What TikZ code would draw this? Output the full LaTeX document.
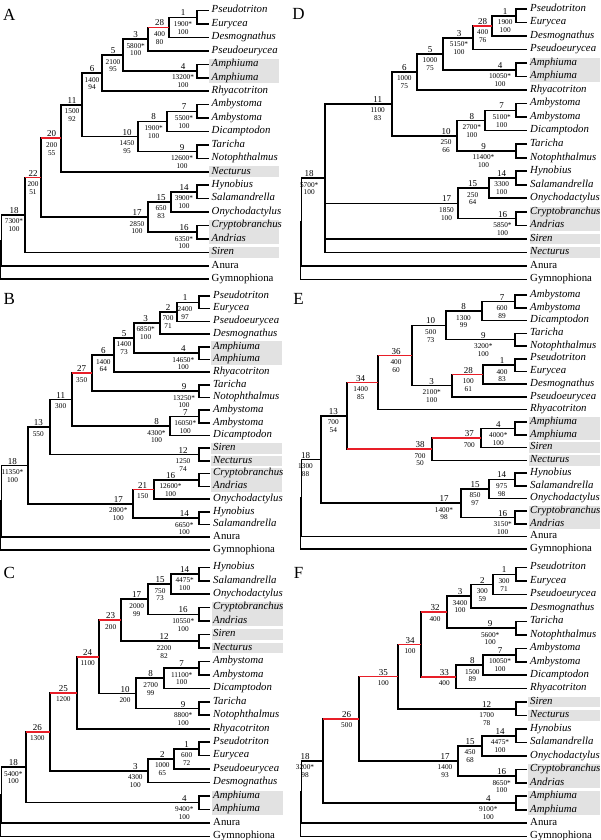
\documentclass[tikz,border=0pt]{standalone}
\usepackage{fontspec}
\setmainfont{Liberation Serif}
\usetikzlibrary{calc,backgrounds}

\definecolor{cladered}{RGB}{232,30,40}
\definecolor{boxgrey}{RGB}{226,226,226}

% leaf rows: \taxa{panel}{tip x}{first y}{row step}{names}
\newcommand\taxa[5]{%
  \foreach \tname [count=\row] in {#5} {
    \coordinate (#1-\row) at (#2,{#3+(\row-1)*#4});
    \node[taxon] (#1-t\row) at ([xshift=1.5pt]#1-\row) {\ifnum\row>19 \upshape\fi\tname};
  }
}
% stem without labels: \basal{name}{x}{upper child}{lower child}
\newcommand\basal[4]{%
  \path (#3) -- (#4) coordinate[midway] (#1-m);
  \coordinate (#1-x) at (#2,0);
  \coordinate (#1) at (#1-m -| #1-x);
  \draw[branch] (#3) -- (#3 -| #1) -- (#4 -| #1) -- (#4);
}
% \clade{name}{x}{upper child}{lower child}{label x}{number}{support}
\newcommand\clade[7]{%
  \basal{#1}{#2}{#3}{#4}
  \coordinate (#1-lx) at (#5,0);
  \node[support] (#1-s) at ($(#1-lx |- #1)+(0,3.9)$) {#7};
  \node[num] (#1-n) at ($(#1-lx |- #1)+(0,-1.4)$) {#6};
}
% red branch from parent to child
\newcommand\redbranch[2]{\draw[branch, draw=cladered] (#1 -| #2) -- (#1);}
% grey band: \greyrows{panel}{first row}{last row}{left x}{right x}
\newcommand\greyrows[5]{%
  \coordinate (#1-gl) at (#4,0);
  \coordinate (#1-gr) at (#5,0);
  \fill[hilite] ($(#1-#2 -| #1-gl)+(0,-5.3)$) rectangle ($(#1-#3 -| #1-gr)+(0,5.3)$);
}

\begin{document}
\begin{tikzpicture}[x=1pt, y=-1pt,
  branch/.style={line width=1.6pt},
  taxon/.style={anchor=mid west, inner sep=1.5pt, font=\fontsize{10.8}{12}\selectfont\itshape},
  num/.style={anchor=base, inner sep=0pt, font=\fontsize{9}{10}\selectfont},
  support/.style={anchor=north, inner sep=0pt, align=center, font=\fontsize{7.3}{7.8}\selectfont},
  panel/.style={inner sep=0pt, font=\fontsize{17}{17}\selectfont},
  hilite/.style={fill=boxgrey}]

\useasboundingbox (0,0) rectangle (600,840);

\node[panel] (pA) at (9.2,15) {A};
\node[panel] (pB) at (9.2,299) {B};
\node[panel] (pC) at (9.2,572.5) {C};
\node[panel] (pD) at (298.5,14) {D};
\node[panel] (pE) at (298.5,299) {E};
\node[panel] (pF) at (298.5,573) {F};

% A
\taxa{A}{208.5}{10.6}{13.43}{Pseudotriton,Eurycea,Desmognathus,Pseudoeurycea,Amphiuma,Amphiuma,Rhyacotriton,Ambystoma,Ambystoma,Dicamptodon,Taricha,Notophthalmus,Necturus,Hynobius,Salamandrella,Onychodactylus,Cryptobranchus,Andrias,Siren,Anura,Gymnophiona}
\clade{A1}{197}{A-1}{A-2}{183}{1}{1900*\\100}
\clade{A28}{169}{A1}{A-3}{159.5}{28}{400\\80}
\clade{A3}{148}{A28}{A-4}{135.7}{3}{5800*\\100}
\clade{A4}{197}{A-5}{A-6}{183}{4}{13200*\\100}
\clade{A5}{123}{A3}{A4}{113}{5}{2100\\95}
\clade{A6}{102}{A5}{A-7}{92}{6}{1400\\94}
\clade{A7}{197}{A-8}{A-9}{184}{7}{5500*\\100}
\clade{A8}{167}{A7}{A-10}{153.7}{8}{1900*\\100}
\clade{A9}{197}{A-11}{A-12}{182}{9}{12600*\\100}
\clade{A10}{138}{A8}{A9}{127}{10}{1450\\95}
\clade{A11}{82}{A6}{A10}{72}{11}{1500\\92}
\clade{A20}{61}{A11}{A-13}{51.7}{20}{200\\55}
\clade{A14}{197}{A-14}{A-15}{184}{14}{3900*\\100}
\clade{A15}{171}{A14}{A-16}{161}{15}{650\\83}
\clade{A16}{197}{A-17}{A-18}{184}{16}{6350*\\100}
\clade{A17}{148}{A15}{A16}{137}{17}{2850\\100}
\clade{A22}{41}{A20}{A17}{33}{22}{200\\51}
\clade{A18}{25}{A22}{A-19}{14}{18}{7300*\\100}
\basal{Ab}{1.5}{A18}{A-20}
\basal{Ar}{0.4}{Ab}{A-21}
\redbranch{A28}{A3}
\redbranch{A20}{A22}
\redbranch{A22}{A18}

% B
\taxa{B}{210}{296}{12.69}{Pseudotriton,Eurycea,Pseudoeurycea,Desmognathus,Amphiuma,Amphiuma,Rhyacotriton,Taricha,Notophthalmus,Ambystoma,Ambystoma,Dicamptodon,Siren,Necturus,Cryptobranchus,Andrias,Onychodactylus,Hynobius,Salamandrella,Anura,Gymnophiona}
\clade{B1}{199}{B-1}{B-2}{185}{1}{2400\\97}
\clade{B2}{177}{B1}{B-3}{168}{2}{700\\71}
\clade{B3}{160}{B2}{B-4}{145.7}{3}{6850*\\100}
\clade{B4}{199}{B-5}{B-6}{183.3}{4}{14650*\\100}
\clade{B5}{134}{B3}{B4}{124}{5}{1400\\73}
\clade{B6}{114}{B5}{B-7}{103.3}{6}{1400\\64}
\clade{B9}{199}{B-8}{B-9}{184}{9}{13250*\\100}
\clade{B27}{92}{B6}{B9}{81.7}{27}{350}
\clade{B7}{199}{B-10}{B-11}{185.3}{7}{16050*\\100}
\clade{B8}{170}{B7}{B-12}{156.5}{8}{4300*\\100}
\clade{B11}{72}{B27}{B8}{60.7}{11}{300}
\clade{B12}{199}{B-13}{B-14}{183}{12}{1250\\74}
\clade{B13}{50}{B11}{B12}{38.3}{13}{550}
\clade{B16}{199}{B-15}{B-16}{170.5}{16}{12600*\\100}
\clade{B21}{154}{B16}{B-17}{142.7}{21}{150}
\clade{B14}{199}{B-18}{B-19}{184.3}{14}{6650*\\100}
\clade{B17}{133}{B21}{B14}{118.3}{17}{2800*\\100}
\clade{B18}{28}{B13}{B17}{12.5}{18}{11350*\\100}
\basal{Bb}{1.5}{B18}{B-20}
\basal{Br}{0.4}{Bb}{B-21}
\redbranch{B27}{B11}
\redbranch{B21}{B17}

% C
\taxa{C}{210}{567.3}{13.45}{Hynobius,Salamandrella,Onychodactylus,Cryptobranchus,Andrias,Siren,Necturus,Ambystoma,Ambystoma,Dicamptodon,Taricha,Notophthalmus,Rhyacotriton,Pseudotriton,Eurycea,Pseudoeurycea,Desmognathus,Amphiuma,Amphiuma,Anura,Gymnophiona}
\clade{C14}{199}{C-1}{C-2}{184.7}{14}{4475*\\100}
\clade{C15}{171}{C14}{C-3}{160}{15}{750\\73}
\clade{C16}{199}{C-4}{C-5}{183.2}{16}{10550*\\100}
\clade{C17}{148}{C15}{C16}{136.7}{17}{2000\\99}
\clade{C12}{199}{C-6}{C-7}{164}{12}{2200\\82}
\clade{C23}{121}{C17}{C12}{110.7}{23}{200}
\clade{C7}{199}{C-8}{C-9}{181.7}{7}{11100*\\100}
\clade{C8}{164}{C7}{C-10}{150.7}{8}{2700\\99}
\clade{C9}{199}{C-11}{C-12}{183.2}{9}{8800*\\100}
\clade{C10}{136}{C8}{C9}{125}{10}{200}
\clade{C24}{99}{C23}{C10}{87.7}{24}{1100}
\clade{C25}{77}{C24}{C-13}{63.3}{25}{1200}
\clade{C1}{199}{C-14}{C-15}{186.7}{1}{600\\72}
\clade{C2}{174}{C1}{C-16}{162.3}{2}{1000\\65}
\clade{C3}{148}{C2}{C-17}{135.3}{3}{4300\\100}
\clade{C26}{50}{C25}{C3}{37.3}{26}{1300}
\clade{C4}{199}{C-18}{C-19}{184.3}{4}{9400*\\100}
\clade{C18}{26}{C26}{C4}{13.3}{18}{5400*\\100}
\basal{Cb}{1.5}{C18}{C-20}
\basal{Cr}{0.4}{Cb}{C-21}
\redbranch{C23}{C24}
\redbranch{C24}{C25}
\redbranch{C25}{C26}
\redbranch{C26}{C18}

% D
\taxa{D}{527}{9}{13.52}{Pseudotriton,Eurycea,Desmognathus,Pseudoeurycea,Amphiuma,Amphiuma,Rhyacotriton,Ambystoma,Ambystoma,Dicamptodon,Taricha,Notophthalmus,Hynobius,Salamandrella,Onychodactylus,Cryptobranchus,Andrias,Siren,Necturus,Anura,Gymnophiona}
\clade{D1}{516}{D-1}{D-2}{505.2}{1}{1900\\100}
\clade{D28}{492}{D1}{D-3}{482.7}{28}{400\\76}
\clade{D3}{473}{D28}{D-4}{459}{3}{5150*\\100}
\clade{D4}{516}{D-5}{D-6}{500}{4}{10050*\\100}
\clade{D5}{443}{D3}{D4}{430}{5}{1000\\75}
\clade{D6}{417}{D5}{D-7}{404.3}{6}{1000\\75}
\clade{D7}{516}{D-8}{D-9}{501.7}{7}{5100*\\100}
\clade{D8}{485}{D7}{D-10}{471.8}{8}{2700*\\100}
\clade{D9}{516}{D-11}{D-12}{483.5}{9}{11400*\\100}
\clade{D10}{457}{D8}{D9}{446}{10}{250\\66}
\clade{D11}{392}{D6}{D10}{377.7}{11}{1100\\83}
\clade{D14}{516}{D-13}{D-14}{501.7}{14}{3300\\100}
\clade{D15}{489}{D14}{D-15}{472.7}{15}{250\\64}
\clade{D16}{516}{D-16}{D-17}{502.5}{16}{5850*\\100}
\clade{D17}{458}{D15}{D16}{446.5}{17}{1850\\100}
\clade{D18}{325}{D11}{D-19}{309.2}{18}{5700*\\100}
\draw[branch] (D17 -| D18) -- (D17);
\draw[branch] (D-18 -| D18) -- (D-18);
\basal{Db}{301.5}{D18}{D-20}
\basal{Dr}{300.4}{Db}{D-21}
\redbranch{D28}{D3}

% E
\taxa{E}{527}{295.2}{12.7}{Ambystoma,Ambystoma,Dicamptodon,Taricha,Notophthalmus,Pseudotriton,Eurycea,Desmognathus,Pseudoeurycea,Rhyacotriton,Amphiuma,Amphiuma,Siren,Necturus,Hynobius,Salamandrella,Onychodactylus,Cryptobranchus,Andrias,Anura,Gymnophiona}
\clade{E7}{515}{E-1}{E-2}{502}{7}{600\\89}
\clade{E8}{482}{E7}{E-3}{463.5}{8}{1300\\99}
\clade{E9}{515}{E-4}{E-5}{483.3}{9}{3200*\\100}
\clade{E10}{446}{E8}{E9}{430.7}{10}{500\\73}
\clade{E1}{515}{E-6}{E-7}{502}{1}{400\\83}
\clade{E28}{483}{E1}{E-8}{468.3}{28}{100\\61}
\clade{E3}{452}{E28}{E-9}{431.7}{3}{2100*\\100}
\clade{E36}{412}{E10}{E3}{396}{36}{400\\60}
\clade{E34}{378}{E36}{E-10}{360.7}{34}{1400\\85}
\clade{E4}{515}{E-11}{E-12}{498.3}{4}{4000*\\100}
\clade{E37}{481}{E4}{E-13}{469.3}{37}{700}
\clade{E38}{432}{E37}{E-14}{420}{38}{700\\50}
\clade{E13}{347}{E34}{E38}{333.3}{13}{700\\54}
\clade{E14}{515}{E-15}{E-16}{501.7}{14}{975\\98}
\clade{E15}{489}{E14}{E-17}{475}{15}{850\\97}
\clade{E16}{515}{E-18}{E-19}{502.7}{16}{3150*\\100}
\clade{E17}{461}{E15}{E16}{444}{17}{1400*\\98}
\clade{E18}{321}{E13}{E17}{305.5}{18}{1300\\88}
\basal{Eb}{301.5}{E18}{E-20}
\basal{Er}{300.4}{Eb}{E-21}
\redbranch{E28}{E3}
\redbranch{E36}{E34}
\redbranch{E34}{E13}
\redbranch{E37}{E38}
\redbranch{E38}{E13}

% F
\taxa{F}{527}{567.6}{13.45}{Pseudotriton,Eurycea,Pseudoeurycea,Desmognathus,Taricha,Notophthalmus,Ambystoma,Ambystoma,Dicamptodon,Rhyacotriton,Siren,Necturus,Hynobius,Salamandrella,Onychodactylus,Cryptobranchus,Andrias,Amphiuma,Amphiuma,Anura,Gymnophiona}
\clade{F1}{516}{F-1}{F-2}{504}{1}{300\\71}
\clade{F2}{493}{F1}{F-3}{482.3}{2}{300\\59}
\clade{F3}{471}{F2}{F-4}{460}{3}{3400\\100}
\clade{F9}{516}{F-5}{F-6}{490.2}{9}{5600*\\100}
\clade{F32}{447}{F3}{F9}{435}{32}{400}
\clade{F7}{516}{F-7}{F-8}{500}{7}{10050*\\100}
\clade{F8}{483}{F7}{F-9}{472.3}{8}{1500\\89}
\clade{F33}{456}{F8}{F-10}{444.3}{33}{400}
\clade{F34}{421}{F32}{F33}{410}{34}{100}
\clade{F12}{516}{F-11}{F-12}{486.7}{12}{1700\\78}
\clade{F35}{398}{F34}{F12}{383.3}{35}{100}
\clade{F14}{516}{F-13}{F-14}{500}{14}{4475*\\100}
\clade{F15}{482}{F14}{F-15}{470}{15}{450\\68}
\clade{F16}{516}{F-16}{F-17}{501.7}{16}{8650*\\100}
\clade{F17}{458}{F15}{F16}{445}{17}{1400\\93}
\clade{F26}{359}{F35}{F17}{346.7}{26}{500}
\clade{F4}{516}{F-18}{F-19}{488.3}{4}{9100*\\100}
\clade{F18}{323}{F26}{F4}{305}{18}{3200*\\98}
\basal{Fb}{301.5}{F18}{F-20}
\basal{Fr}{300.4}{Fb}{F-21}
\redbranch{F32}{F34}
\redbranch{F33}{F34}
\redbranch{F34}{F35}
\redbranch{F35}{F26}
\redbranch{F26}{F18}

\begin{pgfonlayer}{background}
  \greyrows{A}{5}{6}{209}{279}
  \greyrows{A}{13}{13}{209}{279}
  \greyrows{A}{17}{18}{209}{279}
  \greyrows{A}{19}{19}{209}{279}
  \greyrows{B}{5}{6}{211}{282}
  \greyrows{B}{13}{13}{211}{282}
  \greyrows{B}{14}{14}{211}{282}
  \greyrows{B}{15}{16}{211}{282}
  \greyrows{C}{4}{5}{212}{283}
  \greyrows{C}{6}{6}{212}{283}
  \greyrows{C}{7}{7}{212}{283}
  \greyrows{C}{18}{19}{212}{283}
  \greyrows{D}{5}{6}{530}{600}
  \greyrows{D}{16}{17}{530}{600}
  \greyrows{D}{18}{18}{530}{600}
  \greyrows{D}{19}{19}{530}{600}
  \greyrows{E}{11}{12}{529}{600}
  \greyrows{E}{13}{13}{529}{600}
  \greyrows{E}{14}{14}{529}{600}
  \greyrows{E}{18}{19}{529}{600}
  \greyrows{F}{11}{11}{528}{600}
  \greyrows{F}{12}{12}{528}{600}
  \greyrows{F}{16}{17}{528}{600}
  \greyrows{F}{18}{19}{528}{600}
\end{pgfonlayer}
\end{tikzpicture}
\end{document}
